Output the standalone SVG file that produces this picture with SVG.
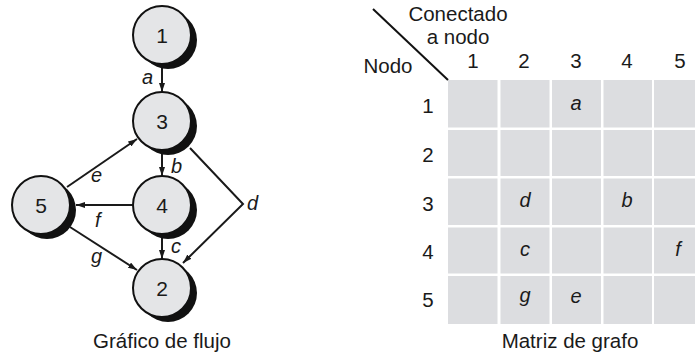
<svg xmlns="http://www.w3.org/2000/svg" width="695" height="356" viewBox="0 0 695 356">
<defs>
<marker id="arr" markerWidth="9" markerHeight="6" refX="9" refY="3" orient="auto" markerUnits="userSpaceOnUse">
<path d="M0,0 L9,3 L0,6 Z" fill="#1a1a1a"/>
</marker>
<style>
text{font-family:"Liberation Sans",Arial,sans-serif;fill:#1a1a1a}
.num{font-size:21px;text-anchor:middle}
.lbl{font-size:20px;font-style:italic}
.cap{font-size:20.5px;text-anchor:middle}
.hd{font-size:20.5px;text-anchor:middle}
.ci{font-size:20px;font-style:italic;text-anchor:middle}
.sh{fill:#111}
.nd{fill:#e4e5e7;stroke:#111;stroke-width:2}
.edge{stroke:#1a1a1a;stroke-width:2;fill:none}
.cell{fill:#dcdde0}
</style>
</defs>
<rect width="695" height="356" fill="#fff"/>

<g id="connectors">
<line class="edge" x1="162" y1="66" x2="162" y2="92" marker-end="url(#arr)"/>
<line class="edge" x1="162" y1="152" x2="162" y2="176" marker-end="url(#arr)"/>
<line class="edge" x1="162" y1="236" x2="162" y2="259" marker-end="url(#arr)"/>
<polyline class="edge" points="190,148 243,204 183,263" marker-end="url(#arr)"/>
<line class="edge" x1="67" y1="187" x2="137" y2="139" marker-end="url(#arr)"/>
<line class="edge" x1="133" y1="205" x2="76" y2="205" marker-end="url(#arr)"/>
<line class="edge" x1="70" y1="227" x2="137" y2="270" marker-end="url(#arr)"/>
<text class="lbl" x="142" y="84">a</text>
<text class="lbl" x="171" y="173">b</text>
<text class="lbl" x="171" y="253">c</text>
<text class="lbl" x="247" y="210">d</text>
<text class="lbl" x="91" y="182">e</text>
<text class="lbl" x="95" y="227">f</text>
<text class="lbl" x="91" y="263">g</text>
</g>

<g id="node1">
<circle class="sh" cx="168" cy="40" r="29"/>
<circle class="nd" cx="162" cy="35" r="29"/>
<text class="num" x="162" y="42.5">1</text>
</g>
<g id="node3">
<circle class="sh" cx="168" cy="126" r="29"/>
<circle class="nd" cx="162" cy="121" r="29"/>
<text class="num" x="162" y="128.5">3</text>
</g>
<g id="node4">
<circle class="sh" cx="168" cy="210" r="29"/>
<circle class="nd" cx="162" cy="205" r="29"/>
<text class="num" x="162" y="212.5">4</text>
</g>
<g id="node5">
<circle class="sh" cx="47" cy="210" r="29"/>
<circle class="nd" cx="41" cy="205" r="29"/>
<text class="num" x="41" y="212.5">5</text>
</g>
<g id="node2">
<circle class="sh" cx="168" cy="293" r="29"/>
<circle class="nd" cx="162" cy="288" r="29"/>
<text class="num" x="162" y="295.5">2</text>
</g>
<text class="cap" x="162" y="348">Gráfico de flujo</text>

<g id="matrix">
<line x1="373" y1="9" x2="448" y2="80" stroke="#111" stroke-width="2"/>
<text class="hd" x="458" y="21">Conectado</text>
<text class="hd" x="458" y="44">a nodo</text>
<text class="hd" x="388" y="73">Nodo</text>
<text class="hd" x="473" y="68">1</text>
<text class="hd" x="524" y="68">2</text>
<text class="hd" x="576" y="68">3</text>
<text class="hd" x="627" y="68">4</text>
<text class="hd" x="680" y="68">5</text>
<text class="hd" x="428" y="113">1</text>
<text class="hd" x="428" y="162">2</text>
<text class="hd" x="428" y="211">3</text>
<text class="hd" x="428" y="259">4</text>
<text class="hd" x="428" y="307">5</text>
<g>
<rect class="cell" x="448" y="80" width="49.5" height="47.5"/>
<rect class="cell" x="500.5" y="80" width="49" height="47.5"/>
<rect class="cell" x="552" y="80" width="49" height="47.5"/>
<rect class="cell" x="603.5" y="80" width="48.5" height="47.5"/>
<rect class="cell" x="654" y="80" width="41" height="47.5"/>
<rect class="cell" x="448" y="130" width="49.5" height="46"/>
<rect class="cell" x="500.5" y="130" width="49" height="46"/>
<rect class="cell" x="552" y="130" width="49" height="46"/>
<rect class="cell" x="603.5" y="130" width="48.5" height="46"/>
<rect class="cell" x="654" y="130" width="41" height="46"/>
<rect class="cell" x="448" y="178.5" width="49.5" height="46.5"/>
<rect class="cell" x="500.5" y="178.5" width="49" height="46.5"/>
<rect class="cell" x="552" y="178.5" width="49" height="46.5"/>
<rect class="cell" x="603.5" y="178.5" width="48.5" height="46.5"/>
<rect class="cell" x="654" y="178.5" width="41" height="46.5"/>
<rect class="cell" x="448" y="227.5" width="49.5" height="46"/>
<rect class="cell" x="500.5" y="227.5" width="49" height="46"/>
<rect class="cell" x="552" y="227.5" width="49" height="46"/>
<rect class="cell" x="603.5" y="227.5" width="48.5" height="46"/>
<rect class="cell" x="654" y="227.5" width="41" height="46"/>
<rect class="cell" x="448" y="276" width="49.5" height="48"/>
<rect class="cell" x="500.5" y="276" width="49" height="48"/>
<rect class="cell" x="552" y="276" width="49" height="48"/>
<rect class="cell" x="603.5" y="276" width="48.5" height="48"/>
<rect class="cell" x="654" y="276" width="41" height="48"/>
</g>
<text class="ci" x="576" y="110">a</text>
<text class="ci" x="525" y="207">d</text>
<text class="ci" x="627" y="207">b</text>
<text class="ci" x="525" y="256">c</text>
<text class="ci" x="678" y="256">f</text>
<text class="ci" x="525" y="302">g</text>
<text class="ci" x="576" y="303">e</text>
<text class="cap" x="570" y="348">Matriz de grafo</text>
</g>
</svg>
